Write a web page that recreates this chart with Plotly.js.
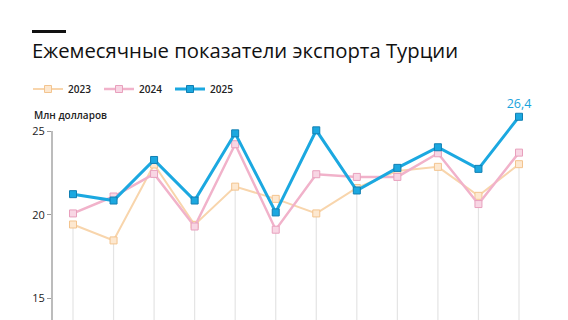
<!DOCTYPE html>
<html>
<head>
<meta charset="utf-8">
<script src="https://cdn.plot.ly/plotly-3.0.1.min.js"></script>
<style>html,body{margin:0;padding:0;background:#fff;}#chart{width:568px;height:320px;}</style>
</head>
<body>
<div id="chart"></div>
<script>
const months = ["Янв","Фев","Мар","Апр","Май","Июн","Июл","Авг","Сен","Окт","Ноя","Дек"];
const years = ["2023","2024","2025"];
const exp2023 = [19.42, 18.47, 23.0, 19.4, 21.68, 20.95, 20.08, 21.6, 22.62, 22.86, 21.13, 23.02];
const exp2024 = [20.08, 21.09, 22.44, 19.3, 24.21, 19.11, 22.42, 22.26, 22.26, 23.67, 20.64, 23.71];
const exp2025 = [21.23, 20.85, 23.27, 20.85, 24.86, 20.14, 25.04, 21.45, 22.8, 24.03, 22.74, 25.85];
const lastLabel = "26,4";
const yTicks = [15, 20, 25];

const yRange = [13.72, 26.85];
const PT = 100, PH = 220;  // plot top px, plot height px
const xIdx = months.map((m, i) => i);

const colors = {
  "2023": {line: "#f8d5ac", fill: "#fde8d0", edge: "#f3c48f", w: 2},
  "2024": {line: "#f1b2ca", fill: "#f8d6e4", edge: "#e8a0bd", w: 2.5},
  "2025": {line: "#1ba8e0", fill: "#1ba8e0", edge: "#117fb2", w: 3}
};
const series = [exp2023, exp2024, exp2025];

const traces = series.map((vals, k) => {
  const c = colors[years[k]];
  const t = {
    type: "scatter", mode: "lines+markers", name: years[k],
    x: xIdx, y: vals, cliponaxis: false,
    line: {color: c.line, width: c.w},
    marker: {symbol: "square", size: 7, color: c.fill, line: {color: c.edge, width: 1}},
    hoverinfo: "skip"
  };
  if (k === 2) {
    t.mode = "lines+markers+text";
    t.text = vals.map((v, i) => i === vals.length - 1 ? lastLabel : "");
    t.textposition = "top center";
    t.textfont = {family: "Open Sans, sans-serif", size: 12.5, color: "#18a3dc"};
  }
  return t;
});

const shapes = xIdx.map(i => ({
  type: "line", xref: "x", yref: "y", layer: "below",
  x0: i, x1: i, y0: Math.min(exp2023[i], exp2024[i], exp2025[i]), y1: yRange[0],
  line: {color: "#e4e4e4", width: 1.2}
}));
shapes.push({
  type: "line", xref: "paper", yref: "y", layer: "below",
  x0: 0, x1: 0, y0: yTicks[yTicks.length - 1], y1: yRange[0],
  line: {color: "#8f8f8f", width: 1.2}
});
shapes.push({
  type: "line", xref: "paper", yref: "paper",
  x0: (32 - 52) / 488, x1: (66 - 52) / 488,
  y0: (320 - 31.5) / PH, y1: (320 - 31.5) / PH,
  line: {color: "#111", width: 3}
});

const layout = {
  width: 568, height: 320,
  margin: {l: 52, r: 28, t: PT, b: 0},
  paper_bgcolor: "#fff", plot_bgcolor: "#fff",
  font: {family: "Open Sans, sans-serif", color: "#222"},
  title: {
    text: "Ежемесячные показатели экспорта Турции",
    xref: "container", yref: "container", x: 32 / 568, xanchor: "left",
    y: 1 - 51 / 320, yanchor: "middle",
    font: {family: "Open Sans, sans-serif", size: 20.3, color: "#111"}
  },
  showlegend: true,
  legend: {
    orientation: "h", xref: "paper", yref: "paper",
    x: (28 - 52) / 488, xanchor: "left", y: (320 - 89) / PH, yanchor: "middle",
    entrywidth: 26, entrywidthmode: "pixels", itemwidth: 30,
    font: {family: "Open Sans, sans-serif", size: 10, color: "#222", weight: 600},
    bgcolor: "rgba(0,0,0,0)"
  },
  xaxis: {
    range: [-0.518, 11.518], showgrid: false, zeroline: false, showline: false,
    showticklabels: false, ticks: "", fixedrange: true
  },
  yaxis: {
    range: yRange, tickvals: yTicks, ticktext: yTicks.map(String),
    showgrid: false, zeroline: false, showline: false,
    ticks: "outside", ticklen: 4, tickcolor: "#9a9a9a", tickwidth: 1,
    tickfont: {family: "Open Sans, sans-serif", size: 11, color: "#222"}
  },
  shapes: shapes,
  annotations: [{
    text: "Млн долларов", xref: "paper", yref: "paper",
    x: (32 - 52) / 488, xanchor: "left", y: (320 - 115) / PH, yanchor: "middle",
    showarrow: false,
    font: {family: "Open Sans, sans-serif", size: 10, color: "#222", weight: 600}
  }]
};

Plotly.newPlot("chart", traces, layout, {displayModeBar: false, staticPlot: true});
</script>
</body>
</html>
